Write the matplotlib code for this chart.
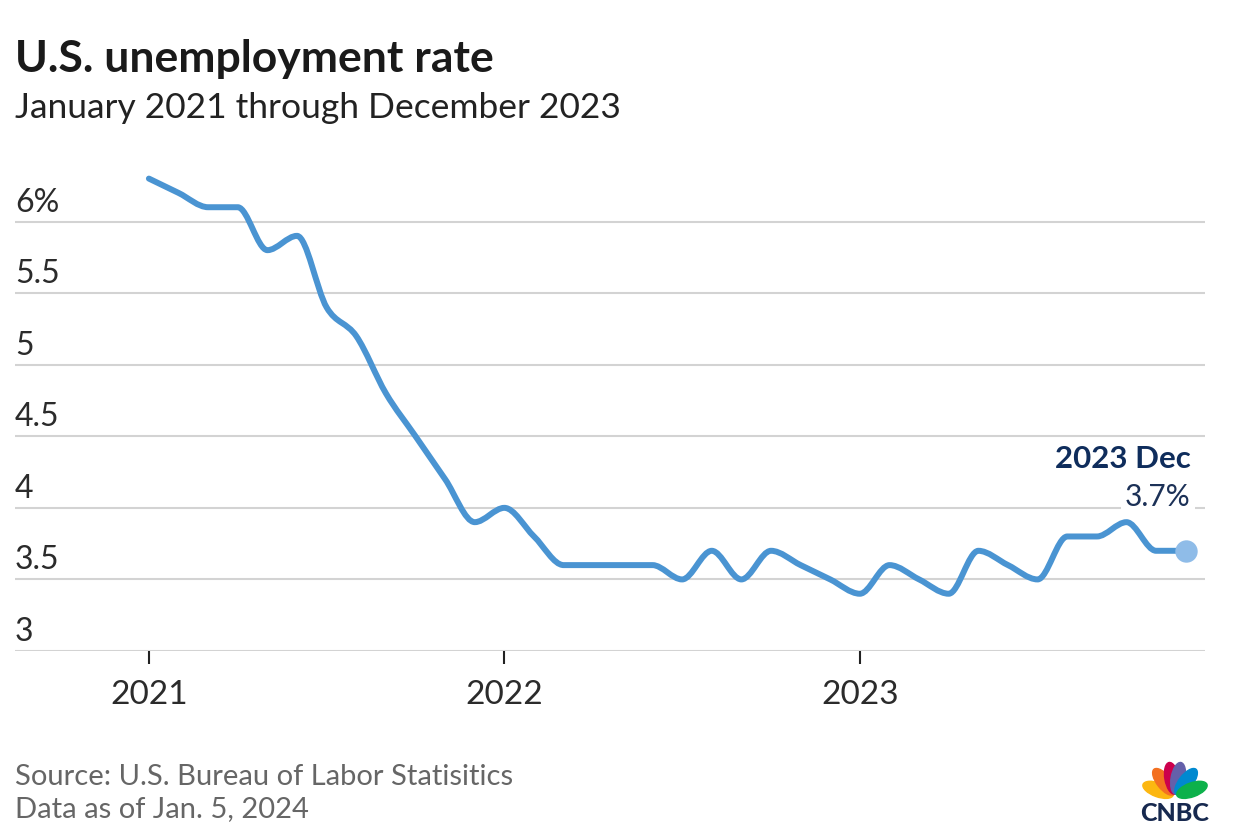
import matplotlib
matplotlib.use('Agg')
import matplotlib.pyplot as plt
import matplotlib.transforms as mtransforms
from matplotlib.path import Path
from matplotlib.patches import PathPatch, Ellipse
import numpy as np

# data: monthly unemployment rate, Jan 2021 .. Dec 2023
rate_2021 = [6.3, 6.2, 6.1, 6.1, 5.8, 5.9, 5.4, 5.2, 4.8, 4.5, 4.2, 3.9]
rate_2022 = [4.0, 3.8, 3.6, 3.6, 3.6, 3.6, 3.5, 3.7, 3.5, 3.7, 3.6, 3.5]
rate_2023 = [3.4, 3.6, 3.5, 3.4, 3.7, 3.6, 3.5, 3.8, 3.8, 3.9, 3.7, 3.7]
rates = rate_2021 + rate_2022 + rate_2023
months = list(range(len(rates)))

y_ticks = [3, 3.5, 4, 4.5, 5, 5.5, 6]
y_labels = ['3', '3.5', '4', '4.5', '5', '5.5', '6%']
x_ticks = [0, 12, 24]
x_labels = ['2021', '2022', '2023']

LINE = '#4a94d2'
GRID = '#d3d3d3'
FONT = 'Lato'


def monotone_path(x, y):
    # cubic bezier path like d3.curveMonotoneX
    x = np.asarray(x, float)
    y = np.asarray(y, float)
    n = len(x)
    h = np.diff(x)
    s = np.diff(y) / h
    t = np.zeros(n)
    for i in range(1, n - 1):
        s0, s1 = s[i - 1], s[i]
        p = (s0 * h[i] + s1 * h[i - 1]) / (h[i - 1] + h[i])
        t[i] = (np.sign(s0) + np.sign(s1)) * min(abs(s0), abs(s1), 0.5 * abs(p))
    t[0] = (3 * s[0] - t[1]) / 2
    t[-1] = (3 * s[-1] - t[-2]) / 2
    verts = [(x[0], y[0])]
    codes = [Path.MOVETO]
    for i in range(n - 1):
        dx = (x[i + 1] - x[i]) / 3
        verts += [(x[i] + dx, y[i] + dx * t[i]),
                  (x[i + 1] - dx, y[i + 1] - dx * t[i + 1]),
                  (x[i + 1], y[i + 1])]
        codes += [Path.CURVE4] * 3
    return Path(verts, codes)


fig = plt.figure(figsize=(12.36, 8.38), dpi=100)
ax = fig.add_axes([15 / 1236, 1 - 651 / 838, 1190 / 1236, 481 / 838])
ax.set_xlim(-4.52, 35.65)
ax.set_ylim(3, 6.36)

for v in y_ticks:
    ax.axhline(v, color=GRID, lw=1.5, zorder=1)

for sp in ax.spines.values():
    sp.set_visible(False)
ax.set_yticks([])
ax.set_xticks(x_ticks)
ax.set_xticklabels(x_labels, fontsize=24, color='#2b2b2b', family=FONT)
ax.tick_params(axis='x', length=9, width=1.5, color='#222222', pad=12)

# y labels sit on top of the grid lines
lab_tr = mtransforms.offset_copy(ax.get_yaxis_transform(), fig=fig, x=0, y=10, units='dots')
for v, lab in zip(y_ticks, y_labels):
    ax.text(0, v, lab, transform=lab_tr, ha='left', va='baseline',
            fontsize=23, color='#2b2b2b', family=FONT)

ax.add_patch(PathPatch(monotone_path(months, rates), fill=False, edgecolor=LINE,
                       lw=4.3, capstyle='round', joinstyle='round', zorder=3))
ax.scatter([months[-1]], [rates[-1]], s=260, color='#8fbce8', zorder=4, linewidths=0)

ax.annotate('2023 Dec', (months[-1], rates[-1]), xytext=(5, 83), textcoords='offset pixels',
            ha='right', va='baseline', fontsize=22.5, fontweight='bold', color='#0f2d5c',
            family=FONT, zorder=5)
ax.annotate('3.7%', (months[-1], rates[-1]), xytext=(5, 45), textcoords='offset pixels',
            ha='right', va='baseline', fontsize=21.5, color='#1c3157', family=FONT, zorder=5,
            bbox=dict(boxstyle='square,pad=0.15', fc='white', ec='none'))

fig.text(15 / 1236, 1 - 72 / 838, 'U.S. unemployment rate', fontsize=32, fontweight='bold',
         color='#1a1a1a', family=FONT, va='baseline')
fig.text(15 / 1236, 1 - 118 / 838, 'January 2021 through December 2023', fontsize=25.5,
         color='#222222', family=FONT, va='baseline')
fig.text(15 / 1236, 1 - 785 / 838, 'Source: U.S. Bureau of Labor Statisitics', fontsize=21,
         color='#666666', family=FONT, va='baseline')
fig.text(15 / 1236, 1 - 817 / 838, 'Data as of Jan. 5, 2024', fontsize=21,
         color='#666666', family=FONT, va='baseline')

# CNBC peacock logo, axes in pixel units
logo = fig.add_axes([1130 / 1236, 1 - 823 / 838, 90 / 1236, 68 / 838])
logo.set_xlim(0, 90)
logo.set_ylim(0, 68)
logo.axis('off')
feathers = ['#fcb711', '#f37021', '#cc004c', '#6460aa', '#0089d0', '#0db14b']
angles = [160, 128, 100, 80, 52, 20]
for c, ang in zip(feathers, angles):
    a = np.deg2rad(ang)
    logo.add_patch(Ellipse((45 + 18 * np.cos(a), 27 + 18 * np.sin(a)), 32, 14,
                           angle=ang, color=c))
logo.text(45, 10, 'CNBC', ha='center', va='center', fontsize=18, fontweight='black',
          color='#17294f', family=FONT)

fig.savefig('out.png', dpi=100)
